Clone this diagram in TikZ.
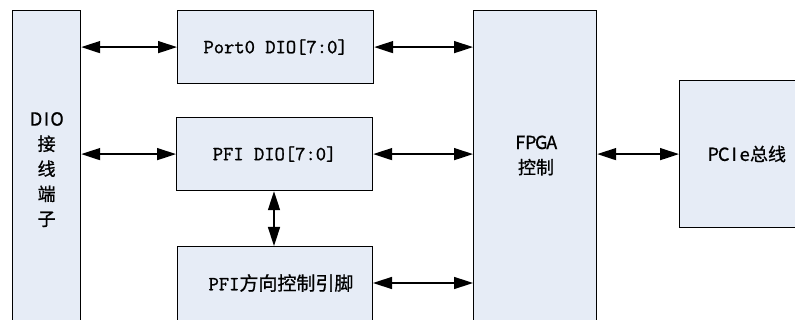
\documentclass[tikz,border=0pt]{standalone}
\usepackage{fontspec}
\setmainfont{Noto Sans CJK SC}[FakeBold=0.9]
\setmonofont{Latin Modern Mono}[FakeBold=1.2]
\usetikzlibrary{arrows.meta}
\definecolor{boxfill}{RGB}{230,236,246}
\newcommand\hb[1]{\makebox[10.5pt]{#1}}
\tikzset{
  blk/.style={draw=black, line width=1.2pt, fill=boxfill, anchor=north west, inner sep=0pt},
  conn/.style={line width=1.5pt, {Triangle[length=19pt,width=12pt]}-{Triangle[length=19pt,width=12pt]}},
  lbl/.style={font=\fontsize{18}{25}\selectfont, align=center, inner sep=0pt},
  mono/.style={font=\ttfamily\fontsize{20}{22}\selectfont}
}
\begin{document}
\begin{tikzpicture}[x=1pt,y=-1pt]
\useasboundingbox (0,0) rectangle (795,320);
\begin{scope}
\clip (0,0) rectangle (795,320);
\node[blk, minimum width=68pt, minimum height=318pt, lbl] (dio) at (12,10) {\hb{D}\hb{I}\hb{O}\\接\\线\\端\\子};
\node[blk, minimum width=196pt, minimum height=73pt, mono] (port) at (177,10) {Port0 DIO[7:0]};
\node[blk, minimum width=196pt, minimum height=73pt, mono] (pfi) at (176,117) {PFI DIO[7:0]};
\node[blk, minimum width=195pt, minimum height=74pt] (pdir) at (177,246) {};
\node[blk, minimum width=123pt, minimum height=318pt] (fpga) at (473,10) {};
\node[blk, minimum width=130pt, minimum height=147pt] (pcie) at (679,80) {};
\end{scope}
\node[inner sep=0pt] (pdirtext) at (281,283) {\ttfamily\fontsize{20}{22}\selectfont PFI\normalfont\fontsize{19}{22}\selectfont 方向控制引脚};
\node[lbl] (fpgatext) at (536,155.5) {\hb{F}\hb{P}\hb{G}\hb{A}\\控制};
\node[lbl] (pcietext) at (747,154) {\hb{P}\hb{C}\hb{I}\hb{e}总线};
\coordinate (r3) at (373,283);
\draw[conn] (dio.east |- port.west) -- (port.west);
\draw[conn] (port.east) -- (fpga.west |- port.east);
\draw[conn] (dio.east |- pfi.west) -- (pfi.west);
\draw[conn] (pfi.east) -- (fpga.west |- pfi.east);
\draw[conn] (r3) -- (fpga.west |- r3);
\draw[conn] (pfi.south -| 274,0) -- (pdir.north -| 274,0);
\draw[conn] (fpga.east |- pfi.east) -- (pcie.west |- pfi.east);
\end{tikzpicture}
\end{document}
